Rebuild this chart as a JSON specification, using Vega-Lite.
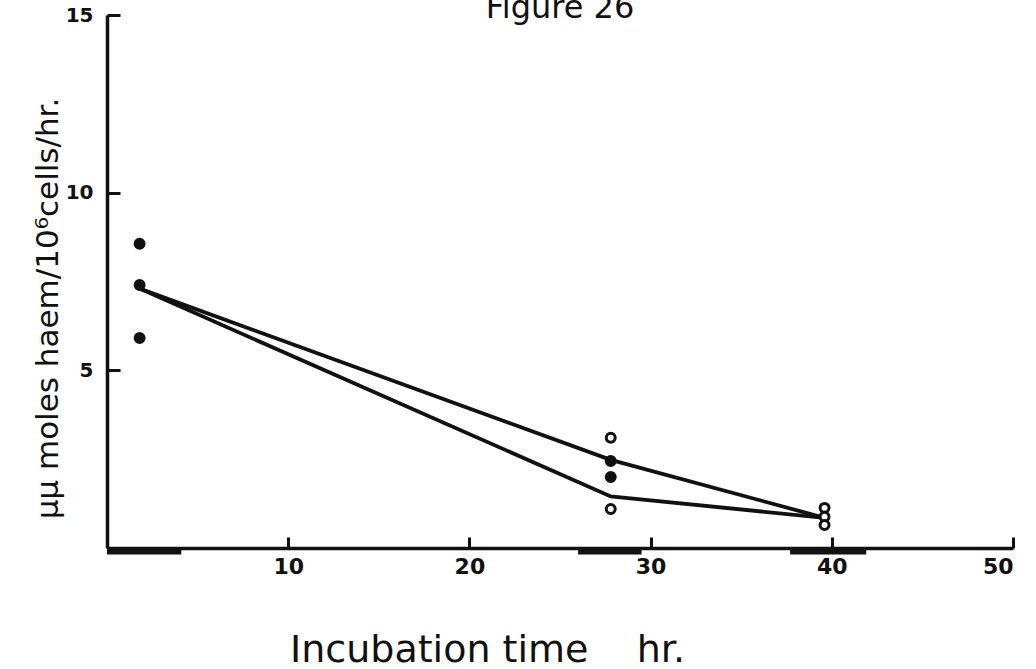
{
  "$schema": "https://vega.github.io/schema/vega-lite/v6.json",
  "width": 906,
  "height": 533,
  "autosize": {"type": "none"},
  "padding": {"left": 107, "top": 15, "right": 23, "bottom": 121},
  "background": "white",
  "title": {
    "text": "Figure 26",
    "font": "DejaVu Sans",
    "fontSize": 32,
    "fontWeight": "normal",
    "color": "#111111",
    "anchor": "middle",
    "baseline": "alphabetic",
    "offset": -45
  },
  "config": {
    "view": {"stroke": null},
    "axis": {
      "grid": false,
      "domainColor": "#111111",
      "domainWidth": 3.5,
      "tickColor": "#111111",
      "tickWidth": 3,
      "labelColor": "#111111",
      "labelFont": "DejaVu Sans",
      "labelFontWeight": "bold",
      "titleColor": "#111111",
      "titleFont": "DejaVu Sans",
      "titleFontWeight": "normal"
    }
  },
  "resolve": {"axis": {"x": "independent", "y": "independent"}},
  "datasets": {
    "periods": [
      {"t": 0, "t_end": 4.1},
      {"t": 26, "t_end": 29.5},
      {"t": 37.7, "t_end": 41.9}
    ],
    "curves": [
      {"series": "upper", "t": 1.8, "v": 7.3},
      {"series": "upper", "t": 27.8, "v": 2.48},
      {"series": "upper", "t": 39.6, "v": 0.85},
      {"series": "lower", "t": 1.8, "v": 7.3},
      {"series": "lower", "t": 27.8, "v": 1.45},
      {"series": "lower", "t": 39.6, "v": 0.85}
    ],
    "readings": [
      {"t": 1.8, "v": 8.56, "symbol": "closed"},
      {"t": 1.8, "v": 7.4, "symbol": "closed"},
      {"t": 1.8, "v": 5.91, "symbol": "closed"},
      {"t": 27.8, "v": 3.1, "symbol": "open"},
      {"t": 27.8, "v": 2.45, "symbol": "closed"},
      {"t": 27.8, "v": 2.0, "symbol": "closed"},
      {"t": 27.8, "v": 1.1, "symbol": "open"},
      {"t": 39.6, "v": 1.13, "symbol": "open"},
      {"t": 39.6, "v": 0.88, "symbol": "open"},
      {"t": 39.6, "v": 0.65, "symbol": "open"}
    ]
  },
  "layer": [
    {
      "data": {"name": "curves"},
      "mark": {"type": "line", "strokeWidth": 3.8, "color": "#111111"},
      "encoding": {
        "x": {
          "field": "t",
          "type": "quantitative",
          "scale": {"domain": [0, 50], "nice": false, "zero": true},
          "axis": {
            "orient": "bottom",
            "values": [10, 20, 30, 40, 50],
            "ticks": false,
            "labelFontSize": 22,
            "labelPadding": 8,
            "title": "Incubation time\u00a0\u00a0\u00a0\u00a0hr.",
            "titleFontSize": 38,
            "titleX": 380,
            "titleY": 102,
            "titleAlign": "center",
            "titleBaseline": "middle"
          }
        },
        "y": {
          "field": "v",
          "type": "quantitative",
          "scale": {"domain": [0, 15], "nice": false, "zero": true},
          "axis": {
            "orient": "left",
            "values": [5, 10, 15],
            "ticks": false,
            "labelFontSize": 20,
            "labelPadding": 14,
            "title": "μμ moles haem/10⁶cells/hr.",
            "titleFontSize": 31,
            "titleX": -59,
            "titleY": 293,
            "titleAngle": 270,
            "titleAlign": "center",
            "titleBaseline": "middle"
          }
        },
        "detail": {"field": "series", "type": "nominal"}
      }
    },
    {
      "data": {"name": "periods"},
      "mark": {"type": "rect", "color": "#111111"},
      "encoding": {
        "x": {"field": "t", "type": "quantitative", "axis": null},
        "x2": {"field": "t_end"},
        "y": {"datum": 0, "type": "quantitative", "axis": null},
        "y2": {"datum": -0.18}
      }
    },
    {
      "data": {"name": "readings"},
      "mark": {"type": "point", "shape": "circle", "size": 80, "strokeWidth": 3, "stroke": "#111111", "filled": true, "opacity": 1},
      "encoding": {
        "x": {
          "field": "t",
          "type": "quantitative",
          "axis": {
            "orient": "bottom",
            "values": [10, 20, 30, 40, 50],
            "offset": -11,
            "tickSize": 11,
            "domain": false,
            "labels": false,
            "title": null
          }
        },
        "y": {
          "field": "v",
          "type": "quantitative",
          "axis": {
            "orient": "left",
            "values": [5, 10, 15],
            "offset": -13,
            "tickSize": 13,
            "domain": false,
            "labels": false,
            "title": null
          }
        },
        "fill": {
          "field": "symbol",
          "type": "nominal",
          "scale": {"domain": ["closed", "open"], "range": ["#111111", "#ffffff"]},
          "legend": null
        }
      }
    }
  ]
}
